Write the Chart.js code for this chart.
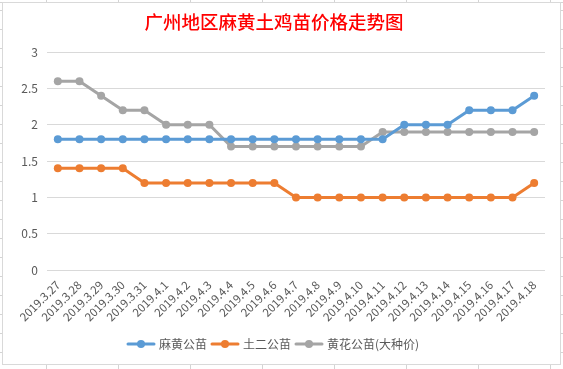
<!DOCTYPE html>
<html>
<head>
<meta charset="utf-8">
<script src="https://cdn.jsdelivr.net/npm/chart.js@4"></script>
<style>
    html, body { margin: 0; padding: 0; }
    body {
        width: 563px;
        height: 369px;
        overflow: hidden;
        background-color: #fff;
        background-image:
            repeating-linear-gradient(to right, #d4d4d4 0 1px, transparent 1px 72px),
            repeating-linear-gradient(to bottom, #d4d4d4 0 1px, transparent 1px 19px);
        background-position: 46px 0, 0 10px;
    }
    #wrap {
        position: absolute;
        left: 2px;
        top: 2px;
        width: 557px;
        height: 361px;
        border: 1px solid #d9d9d9;
        background: #fff;
    }
</style>
</head>
<body>
<div id="wrap"><canvas id="priceChart"></canvas></div>
<script>
// Data
const dates = ['2019.3.27', '2019.3.28', '2019.3.29', '2019.3.30', '2019.3.31', '2019.4.1', '2019.4.2',
    '2019.4.3', '2019.4.4', '2019.4.5', '2019.4.6', '2019.4.7', '2019.4.8', '2019.4.9', '2019.4.10',
    '2019.4.11', '2019.4.12', '2019.4.13', '2019.4.14', '2019.4.15', '2019.4.16', '2019.4.17', '2019.4.18'];
const mahuang = [1.8, 1.8, 1.8, 1.8, 1.8, 1.8, 1.8, 1.8, 1.8, 1.8, 1.8, 1.8, 1.8, 1.8, 1.8, 1.8,
    2.0, 2.0, 2.0, 2.2, 2.2, 2.2, 2.4];
const tuer = [1.4, 1.4, 1.4, 1.4, 1.2, 1.2, 1.2, 1.2, 1.2, 1.2, 1.2, 1.0, 1.0, 1.0, 1.0, 1.0,
    1.0, 1.0, 1.0, 1.0, 1.0, 1.0, 1.2];
const huanghua = [2.6, 2.6, 2.4, 2.2, 2.2, 2.0, 2.0, 2.0, 1.7, 1.7, 1.7, 1.7, 1.7, 1.7, 1.7, 1.9,
    1.9, 1.9, 1.9, 1.9, 1.9, 1.9, 1.9];
const seriesNames = ['麻黄公苗', '土二公苗', '黄花公苗(大种价)'];
const colors = ['#5B9BD5', '#ED7D31', '#A5A5A5'];
const yTicks = [0, 0.5, 1, 1.5, 2, 2.5, 3];

const FONT = "'Noto Sans CJK SC', 'Noto Sans', sans-serif";
const TEXT = '#595959';

// legend symbol: short line with a dot
function legendSymbol(color) {
    const c = document.createElement('canvas');
    c.width = 30;
    c.height = 10;
    const g = c.getContext('2d');
    g.strokeStyle = color;
    g.lineWidth = 3;
    g.lineCap = 'round';
    g.beginPath();
    g.moveTo(2, 5);
    g.lineTo(28, 5);
    g.stroke();
    g.fillStyle = color;
    g.beginPath();
    g.arc(15, 5, 4, 0, Math.PI * 2);
    g.fill();
    return c;
}
const symbols = colors.map(legendSymbol);

function makeSet(label, data, color) {
    return {
        label: label,
        data: data,
        borderColor: color,
        backgroundColor: color,
        borderWidth: 3,
        pointRadius: 4,
        pointHoverRadius: 4,
        pointBorderWidth: 0,
        tension: 0
    };
}

const ctx = document.getElementById('priceChart').getContext('2d');
const priceChart = new Chart(ctx, {
    type: 'line',
    data: {
        labels: dates,
        datasets: [
            makeSet(seriesNames[0], mahuang, colors[0]),
            makeSet(seriesNames[1], tuer, colors[1]),
            makeSet(seriesNames[2], huanghua, colors[2])
        ]
    },
    options: {
        responsive: true,
        maintainAspectRatio: false,
        animation: false,
        layout: { padding: { left: 0, right: 15, top: 0, bottom: 4 } },
        scales: {
            x: {
                offset: true,
                grid: { display: false },
                border: { display: false },
                ticks: {
                    color: TEXT,
                    font: { family: FONT, size: 11.5 },
                    maxRotation: 45,
                    minRotation: 45,
                    autoSkip: false,
                    padding: 0
                },
                afterFit: s => { s.height = 62; }
            },
            y: {
                min: 0,
                max: 3,
                afterBuildTicks: s => { s.ticks = yTicks.map(v => ({ value: v })); },
                grid: { color: '#d9d9d9', drawTicks: false },
                border: { display: false },
                ticks: {
                    color: TEXT,
                    font: { family: FONT, size: 12 },
                    padding: 9,
                    callback: v => String(v)
                },
                afterFit: s => { s.width = 44; }
            }
        },
        plugins: {
            title: {
                display: true,
                text: '广州地区麻黄土鸡苗价格走势图',
                color: '#FF0000',
                font: { family: FONT, size: 18.5, weight: '500' },
                padding: { top: 8, bottom: 19 }
            },
            legend: {
                position: 'bottom',
                labels: {
                    color: TEXT,
                    font: { family: FONT, size: 12 },
                    usePointStyle: true,
                    pointStyleWidth: 24,
                    padding: 6,
                    generateLabels: chart => {
                        const items = Chart.defaults.plugins.legend.labels.generateLabels(chart);
                        items.forEach((it, i) => { it.pointStyle = symbols[i]; });
                        return items;
                    }
                }
            },
            tooltip: { enabled: false }
        }
    }
});
</script>
</body>
</html>
